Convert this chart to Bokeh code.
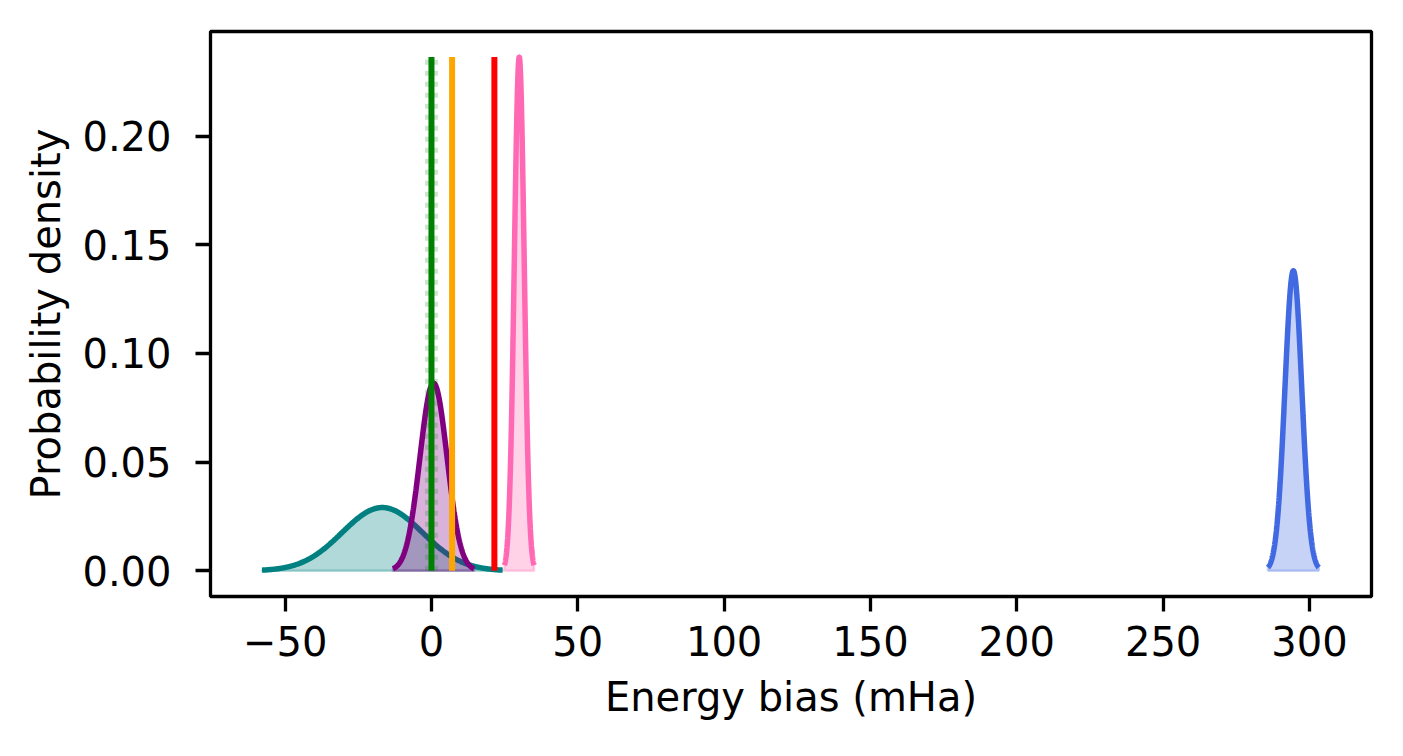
import numpy as np
from bokeh.plotting import figure
from bokeh.models import Range1d, FixedTicker
from bokeh.embed import file_html
from bokeh.resources import INLINE

# ---- data ----
dist_means = [-16.8, 0.7, 30.0, 294.5]          # mHa
dist_sigmas = [13.7, 4.62, 1.688, 2.89]          # mHa
dist_colors = ["#008080", "#800080", "#ff69b4", "#4169e1"]

ref_values = [0.0, 7.05, 21.5]                  # vertical reference lines (mHa)
ref_colors = ["#008000", "#ffa500", "#ff0000"]
band_center = 0.0

x_ticks = [-50, 0, 50, 100, 150, 200, 250, 300]
x_tick_labels = ["\u221250", "0", "50", "100", "150", "200", "250", "300"]
y_ticks = [0.0, 0.05, 0.10, 0.15, 0.20]
y_tick_labels = ["0.00", "0.05", "0.10", "0.15", "0.20"]

FONT = "DejaVu Sans"
FS = "40px"

p = figure(width=1387, height=740, output_backend="svg", toolbar_location=None,
           x_range=Range1d(-75.5, 321.2), y_range=Range1d(-0.0118, 0.2481),
           min_border_left=210, min_border_right=16, min_border_top=31,
           min_border_bottom=144)
p.background_fill_color = "white"
p.border_fill_color = "white"
p.outline_line_color = "black"
p.outline_line_width = 3.3
p.xgrid.visible = False
p.ygrid.visible = False

# distributions
peaks = []
for m, s, c in zip(dist_means, dist_sigmas, dist_colors):
    x = np.linspace(m - 3 * s, m + 3 * s, 400)
    y = np.exp(-0.5 * ((x - m) / s) ** 2) / (s * np.sqrt(2 * np.pi))
    peaks.append(y.max())
    xp = np.concatenate([x, x[::-1]])
    yp = np.concatenate([y, np.zeros_like(y)])
    p.patch(xp, yp, fill_color=c, fill_alpha=0.3, line_color=c, line_alpha=0.3, line_width=2.5)
    p.line(x, y, line_color=c, line_width=5.5)

top = max(peaks)

# light dotted band behind the green line
p.segment(x0=[band_center], y0=[0], x1=[band_center], y1=[top], line_color="#008000",
          line_alpha=0.2, line_width=13, line_dash="5 6")

p.segment(x0=ref_values, y0=[0] * len(ref_values), x1=ref_values, y1=[top] * len(ref_values),
          line_color=ref_colors, line_width=6)

# axes
for ax in (p.xaxis[0], p.yaxis[0]):
    ax.axis_line_color = None
    ax.major_tick_out = 15
    ax.major_tick_in = 0
    ax.major_tick_line_width = 3.3
    ax.major_tick_line_color = "black"
    ax.minor_tick_line_color = None
    ax.major_label_text_font = FONT
    ax.major_label_text_font_size = FS
    ax.major_label_text_color = "black"
    ax.axis_label_text_font = FONT
    ax.axis_label_text_font_size = FS
    ax.axis_label_text_font_style = "normal"
    ax.axis_label_text_color = "black"

p.xaxis.ticker = FixedTicker(ticks=x_ticks)
p.xaxis.major_label_overrides = {t: l for t, l in zip(x_ticks, x_tick_labels)}
p.yaxis.ticker = FixedTicker(ticks=y_ticks)
p.yaxis.major_label_overrides = {t: l for t, l in zip(y_ticks, y_tick_labels)}

p.xaxis.axis_label = "Energy bias (mHa)"
p.yaxis.axis_label = "Probability density"
p.xaxis.major_label_standoff = 14
p.xaxis.axis_label_standoff = 15
p.yaxis.major_label_standoff = 24
p.yaxis.axis_label_standoff = 10

open("out.html", "w").write(file_html(p, INLINE))
